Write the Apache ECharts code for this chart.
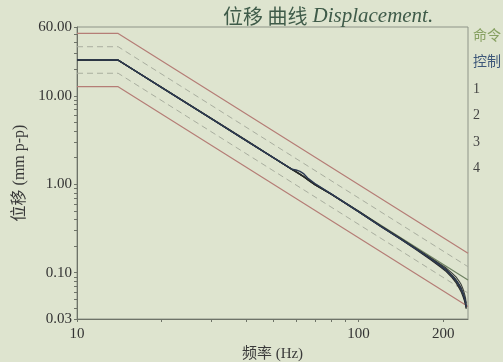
<!DOCTYPE html>
<html>
<head>
<meta charset="utf-8">
<script src="https://cdn.jsdelivr.net/npm/echarts@6/dist/echarts.min.js"></script>
<style>
  html, body { margin: 0; padding: 0; background: #dee4cf; }
  #chart { width: 503px; height: 362px; }
</style>
</head>
<body>
<div id="chart"></div>
<script>
// profile break points (Hz) for the reference / limit lines
const profileFreq = [10, 14, 245];
const command = [25.4, 25.4, 0.083];
const abortHigh = [50.8, 50.8, 0.166];
const alarmHigh = [35.9, 35.9, 0.117];
const alarmLow = [18.0, 18.0, 0.059];
const abortLow = [12.7, 12.7, 0.0415];

// measured curves
const freq = [10, 14, 20, 30, 40, 50, 58, 60, 62, 64, 66, 70, 80, 100, 120, 140, 160, 180, 195, 205, 215, 222, 228, 232, 235, 238, 240, 241.5];
const control = [25.5, 25.4, 12.4, 5.52, 3.1, 1.99, 1.48, 1.45, 1.40, 1.31, 1.18, 1.02, 0.78, 0.49, 0.335, 0.245, 0.186, 0.145, 0.121, 0.107, 0.092, 0.082, 0.072, 0.065, 0.059, 0.052, 0.047, 0.041];
const ch1 = [25.2, 25.2, 12.5, 5.6, 3.14, 2.0, 1.49, 1.40, 1.32, 1.23, 1.15, 1.00, 0.78, 0.50, 0.34, 0.25, 0.19, 0.149, 0.126, 0.113, 0.099, 0.090, 0.080, 0.073, 0.066, 0.058, 0.052, 0.045];
const ch2 = [25.4, 25.3, 12.4, 5.55, 3.1, 1.99, 1.48, 1.39, 1.30, 1.22, 1.13, 0.99, 0.77, 0.495, 0.338, 0.248, 0.188, 0.146, 0.123, 0.109, 0.094, 0.084, 0.074, 0.067, 0.060, 0.053, 0.048, 0.042];
const ch3 = [25.3, 25.3, 12.4, 5.52, 3.1, 1.98, 1.47, 1.38, 1.29, 1.21, 1.13, 0.99, 0.77, 0.49, 0.336, 0.246, 0.186, 0.144, 0.120, 0.106, 0.091, 0.080, 0.070, 0.063, 0.057, 0.050, 0.045, 0.040];
const ch4 = [25.5, 25.4, 12.3, 5.5, 3.09, 1.98, 1.47, 1.38, 1.29, 1.21, 1.12, 0.99, 0.77, 0.49, 0.333, 0.243, 0.183, 0.141, 0.117, 0.103, 0.088, 0.077, 0.067, 0.060, 0.054, 0.048, 0.043, 0.039];

// axis ticks
const xTicks = [10, 20, 30, 40, 50, 60, 70, 80, 90, 100, 200];
const xLabels = [10, 100, 200];
const yTicks = [0.03, 0.04, 0.05, 0.06, 0.07, 0.08, 0.09, 0.1, 0.2, 0.3, 0.4, 0.5, 0.6, 0.7, 0.8, 0.9,
  1, 2, 3, 4, 5, 6, 7, 8, 9, 10, 20, 30, 40, 50, 60];
const yLabels = [0.03, 0.1, 1, 10, 60];

const serif = '"Liberation Serif", "Noto Sans CJK SC", serif';

const pair = (xs, ys) => xs.map((x, i) => [x, ys[i]]);

const chart = echarts.init(document.getElementById('chart'));

const limitLine = (data, dashed) => ({
  type: 'line', data: data, symbol: 'none', silent: true, z: 1,
  lineStyle: dashed
    ? { color: '#a9ae9f', width: 1, type: [6, 4] }
    : { color: '#b57d76', width: 1.2 }
});

const measured = (name, data, color, width) => ({
  name: name, type: 'line', data: data, symbol: 'none',
  lineStyle: { color: color, width: width }, itemStyle: { color: color }
});

chart.setOption({
  backgroundColor: '#dee4cf',
  animation: false,
  title: {
    text: '{c|位移 曲线} {e|Displacement.}',
    left: 218, top: 1,
    textStyle: {
      fontWeight: 'normal',
      rich: {
        c: { fontFamily: '"Noto Sans CJK SC"', fontSize: 20, fontWeight: 'normal', color: '#3f5b49' },
        e: { fontFamily: serif, fontStyle: 'italic', fontSize: 21, fontWeight: 'normal', color: '#3f5b49' }
      }
    }
  },
  legend: {
    orient: 'vertical', left: 468, top: 29, padding: 0,
    icon: 'none', itemWidth: 0, itemHeight: 14, itemGap: 12.5,
    selectedMode: false,
    textStyle: { fontFamily: serif, fontSize: 14, color: '#444' },
    data: [
      { name: '命令', textStyle: { color: '#86a061' } },
      { name: '控制', textStyle: { color: '#3d5779' } },
      { name: '1' }, { name: '2' }, { name: '3' }, { name: '4' }
    ]
  },
  grid: {
    left: 77, right: 35, top: 27, bottom: 43,
    outerBoundsMode: 'none', containLabel: false,
    show: true, borderColor: '#8e9488', borderWidth: 1
  },
  xAxis: {
    type: 'log', min: 10, max: 245, logBase: 10,
    name: '频率 (Hz)', nameLocation: 'middle', nameGap: 25,
    nameTextStyle: { fontFamily: serif, fontSize: 15, color: '#3a3a3a' },
    axisLine: { lineStyle: { color: '#6e7368' } },
    axisTick: { show: true, length: 3, customValues: xTicks, lineStyle: { color: '#6e7368' } },
    axisLabel: {
      customValues: xLabels, margin: 8,
      fontFamily: serif, fontSize: 15, color: '#333',
      formatter: v => String(Math.round(v))
    },
    splitLine: { show: false }
  },
  yAxis: {
    type: 'log', min: 0.03, max: 60, logBase: 10,
    name: '位移 (mm p-p)', nameLocation: 'middle', nameGap: 48,
    nameTextStyle: { fontFamily: serif, fontSize: 16, color: '#3a3a3a' },
    axisLine: { show: true, lineStyle: { color: '#6e7368' } },
    axisTick: { show: true, length: 3, customValues: yTicks, lineStyle: { color: '#6e7368' } },
    axisLabel: {
      customValues: yLabels, margin: 5,
      fontFamily: serif, fontSize: 15, color: '#333',
      formatter: v => v.toFixed(2)
    },
    splitLine: { show: false }
  },
  series: [
    limitLine(pair(profileFreq, abortHigh), false),
    limitLine(pair(profileFreq, alarmHigh), true),
    limitLine(pair(profileFreq, alarmLow), true),
    limitLine(pair(profileFreq, abortLow), false),
    {
      name: '命令', type: 'line', data: pair(profileFreq, command), symbol: 'none', z: 2,
      lineStyle: { color: '#6f8262', width: 1.2 }, itemStyle: { color: '#6f8262' }
    },
    measured('1', pair(freq, ch1), '#3b3f3b', 1.1),
    measured('2', pair(freq, ch2), '#2b2e2c', 1.1),
    measured('3', pair(freq, ch3), '#333736', 1.1),
    measured('4', pair(freq, ch4), '#262827', 1.1),
    measured('控制', pair(freq, control), '#2c3a52', 1.4)
  ]
});

window.addEventListener('resize', () => chart.resize());
</script>
</body>
</html>
